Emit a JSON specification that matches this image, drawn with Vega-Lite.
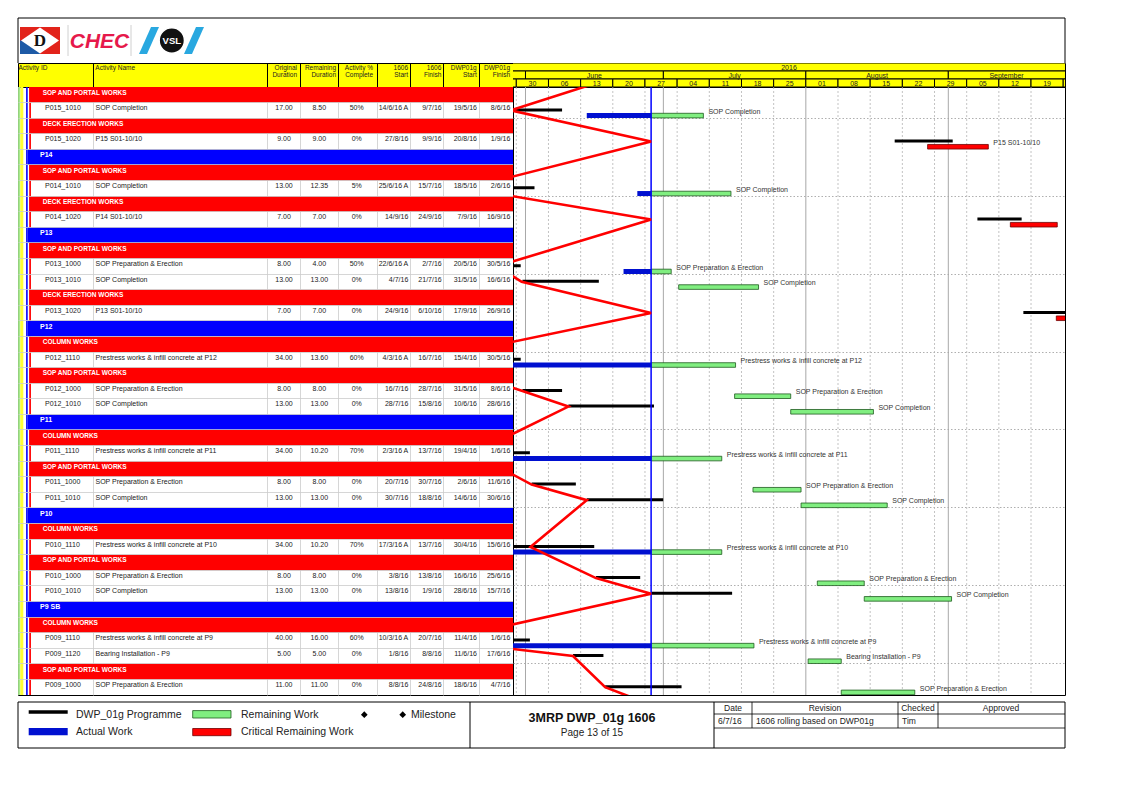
{
  "$schema": "https://vega.github.io/schema/vega-lite/v6.json",
  "background": "white",
  "padding": {"left": 17, "top": 17, "right": 0, "bottom": 0},
  "config": {
    "font": "Liberation Sans",
    "view": {"stroke": "#000000", "strokeWidth": 1},
    "axis": {"domain": false, "ticks": false, "labels": false, "grid": false},
    "text": {"font": "Liberation Sans"}
  },
  "datasets": {
    "rows": [
      {"row": 0, "type": "L2", "label": "SOP AND PORTAL WORKS"},
      {"row": 1, "type": "act", "id": "P015_1010", "name": "SOP Completion", "od": "17.00", "rd": "8.50", "pc": "50%", "st": "14/6/16 A", "fi": "9/7/16", "bs": "19/5/16", "bf": "8/6/16", "as": "2016-06-14T08:00", "rs": "2016-06-28T08:00", "fe": "2016-07-09T17:00", "bse": "2016-05-19T08:00", "bfe": "2016-06-08T23:00", "crit": "no"},
      {"row": 2, "type": "L2", "label": "DECK ERECTION WORKS"},
      {"row": 3, "type": "act", "id": "P015_1020", "name": "P15 S01-10/10", "od": "9.00", "rd": "9.00", "pc": "0%", "st": "27/8/16", "fi": "9/9/16", "bs": "20/8/16", "bf": "1/9/16", "rs": "2016-08-27T12:00", "fe": "2016-09-09T17:00", "bse": "2016-08-20T08:00", "bfe": "2016-09-01T23:00", "crit": "yes"},
      {"row": 4, "type": "L1", "label": "P14"},
      {"row": 5, "type": "L2", "label": "SOP AND PORTAL WORKS"},
      {"row": 6, "type": "act", "id": "P014_1010", "name": "SOP Completion", "od": "13.00", "rd": "12.35", "pc": "5%", "st": "25/6/16 A", "fi": "15/7/16", "bs": "18/5/16", "bf": "2/6/16", "as": "2016-06-25T08:00", "rs": "2016-06-28T08:00", "fe": "2016-07-15T17:00", "bse": "2016-05-18T08:00", "bfe": "2016-06-02T23:00", "crit": "no"},
      {"row": 7, "type": "L2", "label": "DECK ERECTION WORKS"},
      {"row": 8, "type": "act", "id": "P014_1020", "name": "P14 S01-10/10", "od": "7.00", "rd": "7.00", "pc": "0%", "st": "14/9/16", "fi": "24/9/16", "bs": "7/9/16", "bf": "16/9/16", "rs": "2016-09-14T12:00", "fe": "2016-09-24T17:00", "bse": "2016-09-07T08:00", "bfe": "2016-09-16T23:00", "crit": "yes"},
      {"row": 9, "type": "L1", "label": "P13"},
      {"row": 10, "type": "L2", "label": "SOP AND PORTAL WORKS"},
      {"row": 11, "type": "act", "id": "P013_1000", "name": "SOP Preparation & Erection", "od": "8.00", "rd": "4.00", "pc": "50%", "st": "22/6/16 A", "fi": "2/7/16", "bs": "20/5/16", "bf": "30/5/16", "as": "2016-06-22T08:00", "rs": "2016-06-28T08:00", "fe": "2016-07-02T17:00", "bse": "2016-05-20T08:00", "bfe": "2016-05-30T23:00", "crit": "no"},
      {"row": 12, "type": "act", "id": "P013_1010", "name": "SOP Completion", "od": "13.00", "rd": "13.00", "pc": "0%", "st": "4/7/16", "fi": "21/7/16", "bs": "31/5/16", "bf": "16/6/16", "rs": "2016-07-04T08:00", "fe": "2016-07-21T17:00", "bse": "2016-05-31T08:00", "bfe": "2016-06-16T23:00", "crit": "no"},
      {"row": 13, "type": "L2", "label": "DECK ERECTION WORKS"},
      {"row": 14, "type": "act", "id": "P013_1020", "name": "P13 S01-10/10", "od": "7.00", "rd": "7.00", "pc": "0%", "st": "24/9/16", "fi": "6/10/16", "bs": "17/9/16", "bf": "26/9/16", "rs": "2016-09-24T12:00", "fe": "2016-10-06T17:00", "bse": "2016-09-17T08:00", "bfe": "2016-09-26T23:00", "crit": "yes"},
      {"row": 15, "type": "L1", "label": "P12"},
      {"row": 16, "type": "L2", "label": "COLUMN WORKS"},
      {"row": 17, "type": "act", "id": "P012_1110", "name": "Prestress works & infill concrete at P12", "od": "34.00", "rd": "13.60", "pc": "60%", "st": "4/3/16 A", "fi": "16/7/16", "bs": "15/4/16", "bf": "30/5/16", "as": "2016-03-04T08:00", "rs": "2016-06-28T08:00", "fe": "2016-07-16T17:00", "bse": "2016-04-15T08:00", "bfe": "2016-05-30T23:00", "crit": "no"},
      {"row": 18, "type": "L2", "label": "SOP AND PORTAL WORKS"},
      {"row": 19, "type": "act", "id": "P012_1000", "name": "SOP Preparation & Erection", "od": "8.00", "rd": "8.00", "pc": "0%", "st": "16/7/16", "fi": "28/7/16", "bs": "31/5/16", "bf": "8/6/16", "rs": "2016-07-16T12:00", "fe": "2016-07-28T17:00", "bse": "2016-05-31T08:00", "bfe": "2016-06-08T23:00", "crit": "no"},
      {"row": 20, "type": "act", "id": "P012_1010", "name": "SOP Completion", "od": "13.00", "rd": "13.00", "pc": "0%", "st": "28/7/16", "fi": "15/8/16", "bs": "10/6/16", "bf": "28/6/16", "rs": "2016-07-28T17:00", "fe": "2016-08-15T17:00", "bse": "2016-06-10T08:00", "bfe": "2016-06-28T23:00", "crit": "no"},
      {"row": 21, "type": "L1", "label": "P11"},
      {"row": 22, "type": "L2", "label": "COLUMN WORKS"},
      {"row": 23, "type": "act", "id": "P011_1110", "name": "Prestress works & infill concrete at P11", "od": "34.00", "rd": "10.20", "pc": "70%", "st": "2/3/16 A", "fi": "13/7/16", "bs": "19/4/16", "bf": "1/6/16", "as": "2016-03-02T08:00", "rs": "2016-06-28T08:00", "fe": "2016-07-13T17:00", "bse": "2016-04-19T08:00", "bfe": "2016-06-01T23:00", "crit": "no"},
      {"row": 24, "type": "L2", "label": "SOP AND PORTAL WORKS"},
      {"row": 25, "type": "act", "id": "P011_1000", "name": "SOP Preparation & Erection", "od": "8.00", "rd": "8.00", "pc": "0%", "st": "20/7/16", "fi": "30/7/16", "bs": "2/6/16", "bf": "11/6/16", "rs": "2016-07-20T12:00", "fe": "2016-07-30T23:00", "bse": "2016-06-02T08:00", "bfe": "2016-06-11T23:00", "crit": "no"},
      {"row": 26, "type": "act", "id": "P011_1010", "name": "SOP Completion", "od": "13.00", "rd": "13.00", "pc": "0%", "st": "30/7/16", "fi": "18/8/16", "bs": "14/6/16", "bf": "30/6/16", "rs": "2016-07-30T23:00", "fe": "2016-08-18T17:00", "bse": "2016-06-14T08:00", "bfe": "2016-06-30T23:00", "crit": "no"},
      {"row": 27, "type": "L1", "label": "P10"},
      {"row": 28, "type": "L2", "label": "COLUMN WORKS"},
      {"row": 29, "type": "act", "id": "P010_1110", "name": "Prestress works & infill concrete at P10", "od": "34.00", "rd": "10.20", "pc": "70%", "st": "17/3/16 A", "fi": "13/7/16", "bs": "30/4/16", "bf": "15/6/16", "as": "2016-03-17T08:00", "rs": "2016-06-28T08:00", "fe": "2016-07-13T17:00", "bse": "2016-04-30T08:00", "bfe": "2016-06-15T23:00", "crit": "no"},
      {"row": 30, "type": "L2", "label": "SOP AND PORTAL WORKS"},
      {"row": 31, "type": "act", "id": "P010_1000", "name": "SOP Preparation & Erection", "od": "8.00", "rd": "8.00", "pc": "0%", "st": "3/8/16", "fi": "13/8/16", "bs": "16/6/16", "bf": "25/6/16", "rs": "2016-08-03T12:00", "fe": "2016-08-13T17:00", "bse": "2016-06-16T08:00", "bfe": "2016-06-25T23:00", "crit": "no"},
      {"row": 32, "type": "act", "id": "P010_1010", "name": "SOP Completion", "od": "13.00", "rd": "13.00", "pc": "0%", "st": "13/8/16", "fi": "1/9/16", "bs": "28/6/16", "bf": "15/7/16", "rs": "2016-08-13T17:00", "fe": "2016-09-01T17:00", "bse": "2016-06-28T08:00", "bfe": "2016-07-15T23:00", "crit": "no"},
      {"row": 33, "type": "L1", "label": "P9 SB"},
      {"row": 34, "type": "L2", "label": "COLUMN WORKS"},
      {"row": 35, "type": "act", "id": "P009_1110", "name": "Prestress works & infill concrete at P9", "od": "40.00", "rd": "16.00", "pc": "60%", "st": "10/3/16 A", "fi": "20/7/16", "bs": "11/4/16", "bf": "1/6/16", "as": "2016-03-10T08:00", "rs": "2016-06-28T08:00", "fe": "2016-07-20T17:00", "bse": "2016-04-11T08:00", "bfe": "2016-06-01T23:00", "crit": "no"},
      {"row": 36, "type": "act", "id": "P009_1120", "name": "Bearing Installation - P9", "od": "5.00", "rd": "5.00", "pc": "0%", "st": "1/8/16", "fi": "8/8/16", "bs": "11/6/16", "bf": "17/6/16", "rs": "2016-08-01T12:00", "fe": "2016-08-08T17:00", "bse": "2016-06-11T08:00", "bfe": "2016-06-17T23:00", "crit": "no"},
      {"row": 37, "type": "L2", "label": "SOP AND PORTAL WORKS"},
      {"row": 38, "type": "act", "id": "P009_1000", "name": "SOP Preparation & Erection", "od": "11.00", "rd": "11.00", "pc": "0%", "st": "8/8/16", "fi": "24/8/16", "bs": "18/6/16", "bf": "4/7/16", "rs": "2016-08-08T17:00", "fe": "2016-08-24T17:00", "bse": "2016-06-18T08:00", "bfe": "2016-07-04T23:00", "crit": "no"}
    ],
    "tcells": [
      {"lv": "year", "s": "2016-05-20T00:00", "e": "2016-10-10T00:00", "t": "2016", "m": "2016-07-28T08:00"},
      {"lv": "month", "s": "2016-05-20T00:00", "e": "2016-06-01T00:00", "t": "", "m": "2016-05-25T00:00"},
      {"lv": "month", "s": "2016-06-01T00:00", "e": "2016-07-01T00:00", "t": "June", "m": "2016-06-16T00:00"},
      {"lv": "month", "s": "2016-07-01T00:00", "e": "2016-08-01T00:00", "t": "July", "m": "2016-07-16T12:00"},
      {"lv": "month", "s": "2016-08-01T00:00", "e": "2016-09-01T00:00", "t": "August", "m": "2016-08-16T12:00"},
      {"lv": "month", "s": "2016-09-01T00:00", "e": "2016-10-01T00:00", "t": "September", "m": "2016-09-13T16:00"},
      {"lv": "week", "s": "2016-05-23T00:00", "e": "2016-05-30T00:00", "t": "", "m": "2016-05-26T12:00"},
      {"lv": "week", "s": "2016-05-30T00:00", "e": "2016-06-06T00:00", "t": "30", "m": "2016-06-02T12:00"},
      {"lv": "week", "s": "2016-06-06T00:00", "e": "2016-06-13T00:00", "t": "06", "m": "2016-06-09T12:00"},
      {"lv": "week", "s": "2016-06-13T00:00", "e": "2016-06-20T00:00", "t": "13", "m": "2016-06-16T12:00"},
      {"lv": "week", "s": "2016-06-20T00:00", "e": "2016-06-27T00:00", "t": "20", "m": "2016-06-23T12:00"},
      {"lv": "week", "s": "2016-06-27T00:00", "e": "2016-07-04T00:00", "t": "27", "m": "2016-06-30T12:00"},
      {"lv": "week", "s": "2016-07-04T00:00", "e": "2016-07-11T00:00", "t": "04", "m": "2016-07-07T12:00"},
      {"lv": "week", "s": "2016-07-11T00:00", "e": "2016-07-18T00:00", "t": "11", "m": "2016-07-14T12:00"},
      {"lv": "week", "s": "2016-07-18T00:00", "e": "2016-07-25T00:00", "t": "18", "m": "2016-07-21T12:00"},
      {"lv": "week", "s": "2016-07-25T00:00", "e": "2016-08-01T00:00", "t": "25", "m": "2016-07-28T12:00"},
      {"lv": "week", "s": "2016-08-01T00:00", "e": "2016-08-08T00:00", "t": "01", "m": "2016-08-04T12:00"},
      {"lv": "week", "s": "2016-08-08T00:00", "e": "2016-08-15T00:00", "t": "08", "m": "2016-08-11T12:00"},
      {"lv": "week", "s": "2016-08-15T00:00", "e": "2016-08-22T00:00", "t": "15", "m": "2016-08-18T12:00"},
      {"lv": "week", "s": "2016-08-22T00:00", "e": "2016-08-29T00:00", "t": "22", "m": "2016-08-25T12:00"},
      {"lv": "week", "s": "2016-08-29T00:00", "e": "2016-09-05T00:00", "t": "29", "m": "2016-09-01T12:00"},
      {"lv": "week", "s": "2016-09-05T00:00", "e": "2016-09-12T00:00", "t": "05", "m": "2016-09-08T12:00"},
      {"lv": "week", "s": "2016-09-12T00:00", "e": "2016-09-19T00:00", "t": "12", "m": "2016-09-15T12:00"},
      {"lv": "week", "s": "2016-09-19T00:00", "e": "2016-09-26T00:00", "t": "19", "m": "2016-09-22T12:00"},
      {"lv": "week", "s": "2016-09-26T00:00", "e": "2016-10-03T00:00", "t": "", "m": "2016-09-29T12:00"}
    ],
    "weeks": [
      {"d": "2016-05-30T00:00"}, {"d": "2016-06-06T00:00"}, {"d": "2016-06-13T00:00"}, {"d": "2016-06-20T00:00"},
      {"d": "2016-06-27T00:00"}, {"d": "2016-07-04T00:00"}, {"d": "2016-07-11T00:00"}, {"d": "2016-07-18T00:00"},
      {"d": "2016-07-25T00:00"}, {"d": "2016-08-08T00:00"}, {"d": "2016-08-15T00:00"}, {"d": "2016-08-22T00:00"},
      {"d": "2016-08-29T00:00"}, {"d": "2016-09-05T00:00"}, {"d": "2016-09-12T00:00"}, {"d": "2016-09-19T00:00"}
    ],
    "months": [
      {"d": "2016-06-01T00:00"}, {"d": "2016-07-01T00:00"}, {"d": "2016-08-01T00:00"}, {"d": "2016-09-01T00:00"}
    ],
    "datadate": [{"dd": "2016-06-28T08:00"}],
    "prog": [
      {"r": -1, "d": "2016-06-18T23:00"},
      {"r": 1, "d": "2016-05-28T20:00"},
      {"r": 3, "d": "2016-06-28T08:00"},
      {"r": 6, "d": "2016-05-19T02:00"},
      {"r": 8, "d": "2016-06-28T08:00"},
      {"r": 11, "d": "2016-05-25T19:00"},
      {"r": 12, "d": "2016-05-31T04:00"},
      {"r": 14, "d": "2016-06-28T08:00"},
      {"r": 17, "d": "2016-05-10T10:00"},
      {"r": 19, "d": "2016-05-31T08:00"},
      {"r": 20, "d": "2016-06-10T08:00"},
      {"r": 23, "d": "2016-05-20T14:00"},
      {"r": 25, "d": "2016-06-02T08:00"},
      {"r": 26, "d": "2016-06-14T08:00"},
      {"r": 29, "d": "2016-06-02T02:00"},
      {"r": 31, "d": "2016-06-16T08:00"},
      {"r": 32, "d": "2016-06-28T08:00"},
      {"r": 35, "d": "2016-05-13T14:00"},
      {"r": 36, "d": "2016-06-11T08:00"},
      {"r": 38, "d": "2016-06-18T08:00"},
      {"r": 39, "d": "2016-06-27T05:00"}
    ]
  },
  "concat": [
    {
      "width": 495, "height": 45,
      "view": {"stroke": null},
      "data": {"values": [{}]},
      "layer": [
        {"mark": {"type": "rect", "fill": "#e2231a"},
         "encoding": {"x": {"datum": 2, "type": "quantitative", "scale": {"domain": [0, 495], "nice": false, "zero": false}, "axis": null}, "x2": {"datum": 42}, "y": {"datum": 9, "type": "quantitative", "scale": {"domain": [0, 45], "reverse": true, "nice": false, "zero": false}, "axis": null}, "y2": {"datum": 36}}},
        {"mark": {"type": "rect", "fill": "#1d5aa6"},
         "encoding": {"x": {"datum": 2, "type": "quantitative", "scale": {"domain": [0, 495], "nice": false, "zero": false}, "axis": null}, "x2": {"datum": 22}, "y": {"datum": 22.5, "type": "quantitative", "scale": {"domain": [0, 45], "reverse": true, "nice": false, "zero": false}, "axis": null}, "y2": {"datum": 36}}},
        {"mark": {"type": "point", "shape": "M0,-0.68L1,0L0,0.68L-1,0Z", "size": 1444, "filled": true, "color": "#ffffff", "opacity": 1},
         "encoding": {"x": {"datum": 22, "type": "quantitative", "scale": {"domain": [0, 495], "nice": false, "zero": false}, "axis": null}, "y": {"datum": 22.5, "type": "quantitative", "scale": {"domain": [0, 45], "reverse": true, "nice": false, "zero": false}, "axis": null}}},
        {"mark": {"type": "text", "text": "D", "fontSize": 17, "fontWeight": "bold", "color": "#111111", "baseline": "middle", "align": "center", "font": "Liberation Serif"},
         "encoding": {"x": {"datum": 22, "type": "quantitative", "scale": {"domain": [0, 495], "nice": false, "zero": false}, "axis": null}, "y": {"datum": 23, "type": "quantitative", "scale": {"domain": [0, 45], "reverse": true, "nice": false, "zero": false}, "axis": null}}},
        {"mark": {"type": "rule", "color": "#d0d0d0", "strokeWidth": 1},
         "encoding": {"x": {"datum": 50, "type": "quantitative", "scale": {"domain": [0, 495], "nice": false, "zero": false}, "axis": null}, "y": {"datum": 7, "type": "quantitative", "scale": {"domain": [0, 45], "reverse": true, "nice": false, "zero": false}, "axis": null}, "y2": {"datum": 38}}},
        {"mark": {"type": "rule", "color": "#d0d0d0", "strokeWidth": 1},
         "encoding": {"x": {"datum": 113, "type": "quantitative", "scale": {"domain": [0, 495], "nice": false, "zero": false}, "axis": null}, "y": {"datum": 7, "type": "quantitative", "scale": {"domain": [0, 45], "reverse": true, "nice": false, "zero": false}, "axis": null}, "y2": {"datum": 38}}},
        {"mark": {"type": "text", "text": "CHEC", "fontSize": 21, "fontWeight": "bold", "fontStyle": "italic", "color": "#e6194b", "baseline": "middle", "align": "center"},
         "encoding": {"x": {"datum": 81.5, "type": "quantitative", "scale": {"domain": [0, 495], "nice": false, "zero": false}, "axis": null}, "y": {"datum": 23.5, "type": "quantitative", "scale": {"domain": [0, 45], "reverse": true, "nice": false, "zero": false}, "axis": null}}},
        {"mark": {"type": "point", "shape": "M-0.74,1L-0.15,1L0.74,-1L0.15,-1Z", "size": 729, "filled": true, "color": "#29a8e0", "opacity": 1},
         "encoding": {"x": {"datum": 131, "type": "quantitative", "scale": {"domain": [0, 495], "nice": false, "zero": false}, "axis": null}, "y": {"datum": 22.5, "type": "quantitative", "scale": {"domain": [0, 45], "reverse": true, "nice": false, "zero": false}, "axis": null}}},
        {"mark": {"type": "point", "shape": "M-0.74,1L-0.15,1L0.74,-1L0.15,-1Z", "size": 729, "filled": true, "color": "#29a8e0", "opacity": 1},
         "encoding": {"x": {"datum": 176, "type": "quantitative", "scale": {"domain": [0, 495], "nice": false, "zero": false}, "axis": null}, "y": {"datum": 22.5, "type": "quantitative", "scale": {"domain": [0, 45], "reverse": true, "nice": false, "zero": false}, "axis": null}}},
        {"mark": {"type": "point", "shape": "circle", "size": 640, "filled": true, "color": "#111111", "opacity": 1, "stroke": "#ffffff", "strokeWidth": 1.5},
         "encoding": {"x": {"datum": 153.8, "type": "quantitative", "scale": {"domain": [0, 495], "nice": false, "zero": false}, "axis": null}, "y": {"datum": 22.5, "type": "quantitative", "scale": {"domain": [0, 45], "reverse": true, "nice": false, "zero": false}, "axis": null}}},
        {"mark": {"type": "text", "text": "VSL", "fontSize": 9.5, "fontWeight": "bold", "color": "#ffffff", "baseline": "middle", "align": "center"},
         "encoding": {"x": {"datum": 153.8, "type": "quantitative", "scale": {"domain": [0, 495], "nice": false, "zero": false}, "axis": null}, "y": {"datum": 23, "type": "quantitative", "scale": {"domain": [0, 45], "reverse": true, "nice": false, "zero": false}, "axis": null}}},
        {"mark": {"type": "rule", "color": "#000000", "strokeWidth": 1},
         "encoding": {"x": {"datum": 0, "type": "quantitative", "scale": {"domain": [0, 495], "nice": false, "zero": false}, "axis": null}, "x2": {"datum": 495}, "y": {"datum": 0, "type": "quantitative", "scale": {"domain": [0, 45], "reverse": true, "nice": false, "zero": false}, "axis": null}}},
        {"mark": {"type": "rule", "color": "#000000", "strokeWidth": 1},
         "encoding": {"x": {"datum": 0, "type": "quantitative", "scale": {"domain": [0, 495], "nice": false, "zero": false}, "axis": null}, "y": {"datum": 0, "type": "quantitative", "scale": {"domain": [0, 45], "reverse": true, "nice": false, "zero": false}, "axis": null}, "y2": {"datum": 45}}}
      ]
    },
    {
      "width": 552, "height": 45,
      "view": {"stroke": null},
      "data": {"values": [{}]},
      "layer": [
        {"mark": {"type": "rule", "color": "#000000", "strokeWidth": 1},
         "encoding": {"x": {"datum": 0, "type": "quantitative", "scale": {"domain": [0, 552], "nice": false, "zero": false}, "axis": null}, "x2": {"datum": 552}, "y": {"datum": 0, "type": "quantitative", "scale": {"domain": [0, 45], "reverse": true, "nice": false, "zero": false}, "axis": null}}},
        {"mark": {"type": "rule", "color": "#000000", "strokeWidth": 1},
         "encoding": {"x": {"datum": 552, "type": "quantitative", "scale": {"domain": [0, 552], "nice": false, "zero": false}, "axis": null}, "y": {"datum": 0, "type": "quantitative", "scale": {"domain": [0, 45], "reverse": true, "nice": false, "zero": false}, "axis": null}, "y2": {"datum": 45}}}
      ]
    },
    {
      "width": 495, "height": 24,
      "view": {"fill": "#ffff00", "stroke": "#000000"},
      "data": {"values": [{}]},
      "layer": [
        {"mark": {"type": "text", "text": "Activity ID", "fontSize": 6.5, "color": "#222222", "align": "left", "baseline": "top"},
         "encoding": {"x": {"datum": 0.5, "type": "quantitative", "scale": {"domain": [0, 495], "nice": false, "zero": false}, "axis": {"grid": true, "values": [75.3, 248.7, 282.3, 319.7, 358.7, 392, 425.3, 460.7], "gridColor": "#000000", "gridWidth": 1, "title": null}}, "y": {"datum": 1.6, "type": "quantitative", "scale": {"domain": [0, 24], "reverse": true, "nice": false, "zero": false}, "axis": null}}},
        {"mark": {"type": "text", "text": "Activity Name", "fontSize": 6.5, "color": "#222222", "align": "left", "baseline": "top"},
         "encoding": {"x": {"datum": 77.3, "type": "quantitative", "scale": {"domain": [0, 495], "nice": false, "zero": false}}, "y": {"datum": 1.6, "type": "quantitative", "scale": {"domain": [0, 24], "reverse": true, "nice": false, "zero": false}, "axis": null}}},
        {"mark": {"type": "text", "text": ["Original", "Duration"], "fontSize": 6.5, "lineHeight": 7.6, "color": "#222222", "align": "right", "baseline": "top"},
         "encoding": {"x": {"datum": 279, "type": "quantitative", "scale": {"domain": [0, 495], "nice": false, "zero": false}}, "y": {"datum": 1.6, "type": "quantitative", "scale": {"domain": [0, 24], "reverse": true, "nice": false, "zero": false}, "axis": null}}},
        {"mark": {"type": "text", "text": ["Remaining", "Duration"], "fontSize": 6.5, "lineHeight": 7.6, "color": "#222222", "align": "right", "baseline": "top"},
         "encoding": {"x": {"datum": 318, "type": "quantitative", "scale": {"domain": [0, 495], "nice": false, "zero": false}}, "y": {"datum": 1.6, "type": "quantitative", "scale": {"domain": [0, 24], "reverse": true, "nice": false, "zero": false}, "axis": null}}},
        {"mark": {"type": "text", "text": ["Activity %", "Complete"], "fontSize": 6.5, "lineHeight": 7.6, "color": "#222222", "align": "right", "baseline": "top"},
         "encoding": {"x": {"datum": 355, "type": "quantitative", "scale": {"domain": [0, 495], "nice": false, "zero": false}}, "y": {"datum": 1.6, "type": "quantitative", "scale": {"domain": [0, 24], "reverse": true, "nice": false, "zero": false}, "axis": null}}},
        {"mark": {"type": "text", "text": ["1606", "Start"], "fontSize": 6.5, "lineHeight": 7.6, "color": "#222222", "align": "right", "baseline": "top"},
         "encoding": {"x": {"datum": 390, "type": "quantitative", "scale": {"domain": [0, 495], "nice": false, "zero": false}}, "y": {"datum": 1.6, "type": "quantitative", "scale": {"domain": [0, 24], "reverse": true, "nice": false, "zero": false}, "axis": null}}},
        {"mark": {"type": "text", "text": ["1606", "Finish"], "fontSize": 6.5, "lineHeight": 7.6, "color": "#222222", "align": "right", "baseline": "top"},
         "encoding": {"x": {"datum": 423.3, "type": "quantitative", "scale": {"domain": [0, 495], "nice": false, "zero": false}}, "y": {"datum": 1.6, "type": "quantitative", "scale": {"domain": [0, 24], "reverse": true, "nice": false, "zero": false}, "axis": null}}},
        {"mark": {"type": "text", "text": ["DWP01g", "Start"], "fontSize": 6.5, "lineHeight": 7.6, "color": "#222222", "align": "right", "baseline": "top"},
         "encoding": {"x": {"datum": 458.7, "type": "quantitative", "scale": {"domain": [0, 495], "nice": false, "zero": false}}, "y": {"datum": 1.6, "type": "quantitative", "scale": {"domain": [0, 24], "reverse": true, "nice": false, "zero": false}, "axis": null}}},
        {"mark": {"type": "text", "text": ["DWP01g", "Finish"], "fontSize": 6.5, "lineHeight": 7.6, "color": "#222222", "align": "right", "baseline": "top"},
         "encoding": {"x": {"datum": 492, "type": "quantitative", "scale": {"domain": [0, 495], "nice": false, "zero": false}}, "y": {"datum": 1.6, "type": "quantitative", "scale": {"domain": [0, 24], "reverse": true, "nice": false, "zero": false}, "axis": null}}}
      ]
    },
    {
      "width": 552, "height": 24,
      "data": {"name": "tcells"},
      "layer": [
        {"mark": {"type": "rect", "fill": "#ffff00", "stroke": "#000000", "strokeWidth": 1, "clip": true},
         "encoding": {"x": {"field": "s", "type": "temporal", "scale": {"domain": [{"year": 2016, "month": 5, "date": 29, "hours": 6, "minutes": 46}, {"year": 2016, "month": 9, "date": 26, "hours": 9, "minutes": 24}]}, "axis": null}, "x2": {"field": "e"}, "y": {"field": "lv", "type": "ordinal", "scale": {"domain": ["year", "month", "week"], "paddingInner": 0, "paddingOuter": 0}, "axis": null}}},
        {"transform": [{"filter": "datum.t != ''"}],
         "mark": {"type": "text", "fontSize": 7, "color": "#222222", "clip": true, "baseline": "middle", "dy": 0.5},
         "encoding": {"x": {"field": "m", "type": "temporal", "scale": {"domain": [{"year": 2016, "month": 5, "date": 29, "hours": 6, "minutes": 46}, {"year": 2016, "month": 9, "date": 26, "hours": 9, "minutes": 24}]}, "axis": null}, "y": {"field": "lv", "type": "ordinal", "scale": {"domain": ["year", "month", "week"], "paddingInner": 0, "paddingOuter": 0}, "axis": null}, "text": {"field": "t"}}}
      ]
    },
    {
      "width": 495, "height": 608,
      "data": {"name": "rows"},
      "layer": [
        {"data": {"values": [{}]},
         "mark": {"type": "rule", "color": "#ff0000", "strokeWidth": 1.7},
         "encoding": {"x": {"datum": 12.1, "type": "quantitative", "scale": {"domain": [0, 495], "nice": false, "zero": false}, "axis": {"grid": true, "values": [75.3, 248.7, 282.3, 319.7, 358.7, 392, 425.3, 460.7], "gridColor": "#cccccc", "gridWidth": 0.8, "title": null}}}},
        {"transform": [{"filter": "datum.type == 'L1'"}],
         "mark": {"type": "rect", "fill": "#0000ff"},
         "encoding": {"x": {"datum": 9.7, "type": "quantitative", "scale": {"domain": [0, 495], "nice": false, "zero": false}}, "x2": {"datum": 495}, "y": {"field": "row", "type": "ordinal", "scale": {"domain": [0,1,2,3,4,5,6,7,8,9,10,11,12,13,14,15,16,17,18,19,20,21,22,23,24,25,26,27,28,29,30,31,32,33,34,35,36,37,38], "paddingInner": 0, "paddingOuter": 0}, "axis": {"grid": true, "values": [1,2,3,4,5,6,7,8,9,10,11,12,13,14,15,16,17,18,19,20,21,22,23,24,25,26,27,28,29,30,31,32,33,34,35,36,37,38], "bandPosition": 0, "gridColor": "#cccccc", "gridWidth": 0.8, "title": null}}}},
        {"transform": [{"filter": "datum.type == 'L2'"}],
         "mark": {"type": "rect", "fill": "#ff0000"},
         "encoding": {"x": {"datum": 11.3, "type": "quantitative", "scale": {"domain": [0, 495], "nice": false, "zero": false}}, "x2": {"datum": 495}, "y": {"field": "row", "type": "ordinal", "scale": {"domain": [0,1,2,3,4,5,6,7,8,9,10,11,12,13,14,15,16,17,18,19,20,21,22,23,24,25,26,27,28,29,30,31,32,33,34,35,36,37,38], "paddingInner": 0, "paddingOuter": 0}}}},
        {"data": {"values": [{}]},
         "mark": {"type": "rule", "color": "#0000ff", "strokeWidth": 1.6},
         "encoding": {"x": {"datum": 8.9, "type": "quantitative", "scale": {"domain": [0, 495], "nice": false, "zero": false}}}},
        {"data": {"values": [{}]},
         "mark": {"type": "rule", "color": "#a6e88c", "strokeWidth": 2.2},
         "encoding": {"x": {"datum": 1.2, "type": "quantitative", "scale": {"domain": [0, 495], "nice": false, "zero": false}}}},
        {"data": {"values": [{}]},
         "mark": {"type": "rule", "color": "#ffff33", "strokeWidth": 3},
         "encoding": {"x": {"datum": 3.8, "type": "quantitative", "scale": {"domain": [0, 495], "nice": false, "zero": false}}}},
        {"transform": [{"filter": "datum.type == 'L1'"}],
         "mark": {"type": "text", "fontSize": 7, "fontWeight": "bold", "color": "#ffffff", "align": "left", "baseline": "middle", "dy": -2},
         "encoding": {"x": {"datum": 22, "type": "quantitative", "scale": {"domain": [0, 495], "nice": false, "zero": false}}, "y": {"field": "row", "type": "ordinal", "scale": {"domain": [0,1,2,3,4,5,6,7,8,9,10,11,12,13,14,15,16,17,18,19,20,21,22,23,24,25,26,27,28,29,30,31,32,33,34,35,36,37,38], "paddingInner": 0, "paddingOuter": 0}}, "text": {"field": "label"}}},
        {"transform": [{"filter": "datum.type == 'L2'"}],
         "mark": {"type": "text", "fontSize": 6.5, "fontWeight": "bold", "color": "#ffffff", "align": "left", "baseline": "middle", "dy": -2},
         "encoding": {"x": {"datum": 24.7, "type": "quantitative", "scale": {"domain": [0, 495], "nice": false, "zero": false}}, "y": {"field": "row", "type": "ordinal", "scale": {"domain": [0,1,2,3,4,5,6,7,8,9,10,11,12,13,14,15,16,17,18,19,20,21,22,23,24,25,26,27,28,29,30,31,32,33,34,35,36,37,38], "paddingInner": 0, "paddingOuter": 0}}, "text": {"field": "label"}}},
        {"transform": [{"filter": "datum.type == 'act'"}],
         "mark": {"type": "text", "fontSize": 7, "color": "#1a1a1a", "align": "left", "baseline": "middle", "dy": -2.3},
         "encoding": {"x": {"datum": 27, "type": "quantitative", "scale": {"domain": [0, 495], "nice": false, "zero": false}}, "y": {"field": "row", "type": "ordinal", "scale": {"domain": [0,1,2,3,4,5,6,7,8,9,10,11,12,13,14,15,16,17,18,19,20,21,22,23,24,25,26,27,28,29,30,31,32,33,34,35,36,37,38], "paddingInner": 0, "paddingOuter": 0}}, "text": {"field": "id"}}},
        {"transform": [{"filter": "datum.type == 'act'"}],
         "mark": {"type": "text", "fontSize": 7, "color": "#1a1a1a", "align": "left", "baseline": "middle", "dy": -2.3},
         "encoding": {"x": {"datum": 77.5, "type": "quantitative", "scale": {"domain": [0, 495], "nice": false, "zero": false}}, "y": {"field": "row", "type": "ordinal", "scale": {"domain": [0,1,2,3,4,5,6,7,8,9,10,11,12,13,14,15,16,17,18,19,20,21,22,23,24,25,26,27,28,29,30,31,32,33,34,35,36,37,38], "paddingInner": 0, "paddingOuter": 0}}, "text": {"field": "name"}}},
        {"transform": [{"filter": "datum.type == 'act'"}],
         "mark": {"type": "text", "fontSize": 7, "color": "#1a1a1a", "align": "center", "baseline": "middle", "dy": -2.3},
         "encoding": {"x": {"datum": 266, "type": "quantitative", "scale": {"domain": [0, 495], "nice": false, "zero": false}}, "y": {"field": "row", "type": "ordinal", "scale": {"domain": [0,1,2,3,4,5,6,7,8,9,10,11,12,13,14,15,16,17,18,19,20,21,22,23,24,25,26,27,28,29,30,31,32,33,34,35,36,37,38], "paddingInner": 0, "paddingOuter": 0}}, "text": {"field": "od"}}},
        {"transform": [{"filter": "datum.type == 'act'"}],
         "mark": {"type": "text", "fontSize": 7, "color": "#1a1a1a", "align": "center", "baseline": "middle", "dy": -2.3},
         "encoding": {"x": {"datum": 301.3, "type": "quantitative", "scale": {"domain": [0, 495], "nice": false, "zero": false}}, "y": {"field": "row", "type": "ordinal", "scale": {"domain": [0,1,2,3,4,5,6,7,8,9,10,11,12,13,14,15,16,17,18,19,20,21,22,23,24,25,26,27,28,29,30,31,32,33,34,35,36,37,38], "paddingInner": 0, "paddingOuter": 0}}, "text": {"field": "rd"}}},
        {"transform": [{"filter": "datum.type == 'act'"}],
         "mark": {"type": "text", "fontSize": 7, "color": "#1a1a1a", "align": "center", "baseline": "middle", "dy": -2.3},
         "encoding": {"x": {"datum": 338.7, "type": "quantitative", "scale": {"domain": [0, 495], "nice": false, "zero": false}}, "y": {"field": "row", "type": "ordinal", "scale": {"domain": [0,1,2,3,4,5,6,7,8,9,10,11,12,13,14,15,16,17,18,19,20,21,22,23,24,25,26,27,28,29,30,31,32,33,34,35,36,37,38], "paddingInner": 0, "paddingOuter": 0}}, "text": {"field": "pc"}}},
        {"transform": [{"filter": "datum.type == 'act'"}],
         "mark": {"type": "text", "fontSize": 7, "color": "#1a1a1a", "align": "right", "baseline": "middle", "dy": -2.3},
         "encoding": {"x": {"datum": 390.3, "type": "quantitative", "scale": {"domain": [0, 495], "nice": false, "zero": false}}, "y": {"field": "row", "type": "ordinal", "scale": {"domain": [0,1,2,3,4,5,6,7,8,9,10,11,12,13,14,15,16,17,18,19,20,21,22,23,24,25,26,27,28,29,30,31,32,33,34,35,36,37,38], "paddingInner": 0, "paddingOuter": 0}}, "text": {"field": "st"}}},
        {"transform": [{"filter": "datum.type == 'act'"}],
         "mark": {"type": "text", "fontSize": 7, "color": "#1a1a1a", "align": "right", "baseline": "middle", "dy": -2.3},
         "encoding": {"x": {"datum": 423.7, "type": "quantitative", "scale": {"domain": [0, 495], "nice": false, "zero": false}}, "y": {"field": "row", "type": "ordinal", "scale": {"domain": [0,1,2,3,4,5,6,7,8,9,10,11,12,13,14,15,16,17,18,19,20,21,22,23,24,25,26,27,28,29,30,31,32,33,34,35,36,37,38], "paddingInner": 0, "paddingOuter": 0}}, "text": {"field": "fi"}}},
        {"transform": [{"filter": "datum.type == 'act'"}],
         "mark": {"type": "text", "fontSize": 7, "color": "#1a1a1a", "align": "right", "baseline": "middle", "dy": -2.3},
         "encoding": {"x": {"datum": 459, "type": "quantitative", "scale": {"domain": [0, 495], "nice": false, "zero": false}}, "y": {"field": "row", "type": "ordinal", "scale": {"domain": [0,1,2,3,4,5,6,7,8,9,10,11,12,13,14,15,16,17,18,19,20,21,22,23,24,25,26,27,28,29,30,31,32,33,34,35,36,37,38], "paddingInner": 0, "paddingOuter": 0}}, "text": {"field": "bs"}}},
        {"transform": [{"filter": "datum.type == 'act'"}],
         "mark": {"type": "text", "fontSize": 7, "color": "#1a1a1a", "align": "right", "baseline": "middle", "dy": -2.3},
         "encoding": {"x": {"datum": 492.3, "type": "quantitative", "scale": {"domain": [0, 495], "nice": false, "zero": false}}, "y": {"field": "row", "type": "ordinal", "scale": {"domain": [0,1,2,3,4,5,6,7,8,9,10,11,12,13,14,15,16,17,18,19,20,21,22,23,24,25,26,27,28,29,30,31,32,33,34,35,36,37,38], "paddingInner": 0, "paddingOuter": 0}}, "text": {"field": "bf"}}}
      ]
    },
    {
      "width": 552, "height": 608,
      "layer": [
        {
          "data": {"name": "rows"},
          "layer": [
            {"data": {"name": "weeks"},
             "mark": {"type": "rule", "color": "#b4b4b4", "strokeDash": [2, 2], "strokeWidth": 0.8},
             "encoding": {"x": {"field": "d", "type": "temporal", "scale": {"domain": [{"year": 2016, "month": 5, "date": 29, "hours": 6, "minutes": 46}, {"year": 2016, "month": 9, "date": 26, "hours": 9, "minutes": 24}]}, "axis": null}}},
            {"data": {"name": "months"},
             "mark": {"type": "rule", "color": "#a8a8a8", "strokeWidth": 1},
             "encoding": {"x": {"field": "d", "type": "temporal", "scale": {"domain": [{"year": 2016, "month": 5, "date": 29, "hours": 6, "minutes": 46}, {"year": 2016, "month": 9, "date": 26, "hours": 9, "minutes": 24}]}, "axis": null}}},
            {"transform": [{"filter": "datum.type == 'act'"}],
             "mark": {"type": "bar", "height": 3, "yOffset": -0.5, "color": "#000000", "clip": true},
             "encoding": {"x": {"field": "bse", "type": "temporal", "scale": {"domain": [{"year": 2016, "month": 5, "date": 29, "hours": 6, "minutes": 46}, {"year": 2016, "month": 9, "date": 26, "hours": 9, "minutes": 24}]}, "axis": null}, "x2": {"field": "bfe"}, "y": {"field": "row", "type": "ordinal", "scale": {"domain": [0,1,2,3,4,5,6,7,8,9,10,11,12,13,14,15,16,17,18,19,20,21,22,23,24,25,26,27,28,29,30,31,32,33,34,35,36,37,38], "paddingInner": 0, "paddingOuter": 0}, "axis": {"grid": true, "values": [2, 7, 12, 17, 22, 27, 32, 37], "bandPosition": 0, "gridDash": [1.5, 2], "gridColor": "#9a9a9a", "gridWidth": 0.8, "title": null}}}},
            {"transform": [{"filter": "datum.type == 'act' && isValid(datum.as)"}],
             "mark": {"type": "bar", "height": 5, "yOffset": 5.2, "color": "#0010d0", "clip": true},
             "encoding": {"x": {"field": "as", "type": "temporal", "scale": {"domain": [{"year": 2016, "month": 5, "date": 29, "hours": 6, "minutes": 46}, {"year": 2016, "month": 9, "date": 26, "hours": 9, "minutes": 24}]}, "axis": null}, "x2": {"field": "rs"}, "y": {"field": "row", "type": "ordinal", "scale": {"domain": [0,1,2,3,4,5,6,7,8,9,10,11,12,13,14,15,16,17,18,19,20,21,22,23,24,25,26,27,28,29,30,31,32,33,34,35,36,37,38], "paddingInner": 0, "paddingOuter": 0}}}},
            {"transform": [{"filter": "datum.type == 'act'"}],
             "mark": {"type": "bar", "height": 4.6, "yOffset": 5.2, "strokeWidth": 0.8, "clip": true},
             "encoding": {"x": {"field": "rs", "type": "temporal", "scale": {"domain": [{"year": 2016, "month": 5, "date": 29, "hours": 6, "minutes": 46}, {"year": 2016, "month": 9, "date": 26, "hours": 9, "minutes": 24}]}, "axis": null}, "x2": {"field": "fe"}, "y": {"field": "row", "type": "ordinal", "scale": {"domain": [0,1,2,3,4,5,6,7,8,9,10,11,12,13,14,15,16,17,18,19,20,21,22,23,24,25,26,27,28,29,30,31,32,33,34,35,36,37,38], "paddingInner": 0, "paddingOuter": 0}},
               "fill": {"field": "crit", "type": "nominal", "scale": {"domain": ["no", "yes"], "range": ["#80ee80", "#ff0000"]}, "legend": null},
               "stroke": {"field": "crit", "type": "nominal", "scale": {"domain": ["no", "yes"], "range": ["#1e5a1e", "#700000"]}, "legend": null}}},
            {"transform": [{"filter": "datum.type == 'act' && time(toDate(datum.fe)) < time(datetime(2016, 8, 20))"}],
             "mark": {"type": "text", "fontSize": 7, "color": "#333333", "align": "left", "baseline": "middle", "dx": 5, "dy": 1.3, "clip": true},
             "encoding": {"x": {"field": "fe", "type": "temporal", "scale": {"domain": [{"year": 2016, "month": 5, "date": 29, "hours": 6, "minutes": 46}, {"year": 2016, "month": 9, "date": 26, "hours": 9, "minutes": 24}]}, "axis": null}, "y": {"field": "row", "type": "ordinal", "scale": {"domain": [0,1,2,3,4,5,6,7,8,9,10,11,12,13,14,15,16,17,18,19,20,21,22,23,24,25,26,27,28,29,30,31,32,33,34,35,36,37,38], "paddingInner": 0, "paddingOuter": 0}}, "text": {"field": "name"}}},
            {"data": {"name": "datadate"},
             "mark": {"type": "rule", "color": "#0000ff", "strokeWidth": 1.5},
             "encoding": {"x": {"field": "dd", "type": "temporal", "scale": {"domain": [{"year": 2016, "month": 5, "date": 29, "hours": 6, "minutes": 46}, {"year": 2016, "month": 9, "date": 26, "hours": 9, "minutes": 24}]}, "axis": null}}}
          ]
        },
        {
          "data": {"name": "prog"},
          "mark": {"type": "line", "color": "#ff0000", "strokeWidth": 2.6, "clip": true},
          "encoding": {
            "x": {"field": "d", "type": "temporal", "scale": {"domain": [{"year": 2016, "month": 5, "date": 29, "hours": 6, "minutes": 46}, {"year": 2016, "month": 9, "date": 26, "hours": 9, "minutes": 24}]}, "axis": null},
            "y": {"field": "r", "type": "quantitative", "scale": {"domain": [-0.5, 38.5], "reverse": true, "nice": false, "zero": false}, "axis": null},
            "order": {"field": "r", "type": "quantitative"}
          }
        }
      ],
      "resolve": {"scale": {"y": "independent"}}
    },
    {
      "width": 495, "height": 53,
      "view": {"stroke": null},
      "data": {"values": [{}]},
      "layer": [
        {"mark": {"type": "rule", "color": "#000000", "strokeWidth": 1},
         "encoding": {"x": {"datum": 0, "type": "quantitative", "scale": {"domain": [0, 495], "nice": false, "zero": false}, "axis": null}, "x2": {"datum": 495}, "y": {"datum": 7, "type": "quantitative", "scale": {"domain": [0, 53], "reverse": true, "nice": false, "zero": false}, "axis": null}}},
        {"mark": {"type": "rule", "color": "#000000", "strokeWidth": 1},
         "encoding": {"x": {"datum": 0, "type": "quantitative", "scale": {"domain": [0, 495], "nice": false, "zero": false}, "axis": null}, "x2": {"datum": 495}, "y": {"datum": 53, "type": "quantitative", "scale": {"domain": [0, 53], "reverse": true, "nice": false, "zero": false}, "axis": null}}},
        {"mark": {"type": "rule", "color": "#000000", "strokeWidth": 1},
         "encoding": {"x": {"datum": 0, "type": "quantitative", "scale": {"domain": [0, 495], "nice": false, "zero": false}, "axis": null}, "y": {"datum": 7, "type": "quantitative", "scale": {"domain": [0, 53], "reverse": true, "nice": false, "zero": false}, "axis": null}, "y2": {"datum": 53}}},
        {"mark": {"type": "rule", "color": "#000000", "strokeWidth": 1},
         "encoding": {"x": {"datum": 452, "type": "quantitative", "scale": {"domain": [0, 495], "nice": false, "zero": false}, "axis": null}, "y": {"datum": 7, "type": "quantitative", "scale": {"domain": [0, 53], "reverse": true, "nice": false, "zero": false}, "axis": null}, "y2": {"datum": 53}}},
        {"mark": {"type": "rect", "fill": "#000000"},
         "encoding": {"x": {"datum": 10.7, "type": "quantitative", "scale": {"domain": [0, 495], "nice": false, "zero": false}, "axis": null}, "x2": {"datum": 49.7}, "y": {"datum": 15.3, "type": "quantitative", "scale": {"domain": [0, 53], "reverse": true, "nice": false, "zero": false}, "axis": null}, "y2": {"datum": 18.8}}},
        {"mark": {"type": "text", "text": "DWP_01g Programme", "fontSize": 10.5, "color": "#222222", "align": "left", "baseline": "middle"},
         "encoding": {"x": {"datum": 58, "type": "quantitative", "scale": {"domain": [0, 495], "nice": false, "zero": false}, "axis": null}, "y": {"datum": 19.7, "type": "quantitative", "scale": {"domain": [0, 53], "reverse": true, "nice": false, "zero": false}, "axis": null}}},
        {"mark": {"type": "rect", "fill": "#0010d0"},
         "encoding": {"x": {"datum": 10.7, "type": "quantitative", "scale": {"domain": [0, 495], "nice": false, "zero": false}, "axis": null}, "x2": {"datum": 49.7}, "y": {"datum": 33, "type": "quantitative", "scale": {"domain": [0, 53], "reverse": true, "nice": false, "zero": false}, "axis": null}, "y2": {"datum": 40.3}}},
        {"mark": {"type": "text", "text": "Actual Work", "fontSize": 10.5, "color": "#222222", "align": "left", "baseline": "middle"},
         "encoding": {"x": {"datum": 58, "type": "quantitative", "scale": {"domain": [0, 495], "nice": false, "zero": false}, "axis": null}, "y": {"datum": 37, "type": "quantitative", "scale": {"domain": [0, 53], "reverse": true, "nice": false, "zero": false}, "axis": null}}},
        {"mark": {"type": "rect", "fill": "#80ee80", "stroke": "#1e5a1e", "strokeWidth": 0.8},
         "encoding": {"x": {"datum": 174.7, "type": "quantitative", "scale": {"domain": [0, 495], "nice": false, "zero": false}, "axis": null}, "x2": {"datum": 213}, "y": {"datum": 15.6, "type": "quantitative", "scale": {"domain": [0, 53], "reverse": true, "nice": false, "zero": false}, "axis": null}, "y2": {"datum": 23}}},
        {"mark": {"type": "text", "text": "Remaining Work", "fontSize": 10.5, "color": "#222222", "align": "left", "baseline": "middle"},
         "encoding": {"x": {"datum": 223, "type": "quantitative", "scale": {"domain": [0, 495], "nice": false, "zero": false}, "axis": null}, "y": {"datum": 19.7, "type": "quantitative", "scale": {"domain": [0, 53], "reverse": true, "nice": false, "zero": false}, "axis": null}}},
        {"mark": {"type": "rect", "fill": "#ff0000", "stroke": "#700000", "strokeWidth": 0.8},
         "encoding": {"x": {"datum": 174.7, "type": "quantitative", "scale": {"domain": [0, 495], "nice": false, "zero": false}, "axis": null}, "x2": {"datum": 213}, "y": {"datum": 33.5, "type": "quantitative", "scale": {"domain": [0, 53], "reverse": true, "nice": false, "zero": false}, "axis": null}, "y2": {"datum": 40.7}}},
        {"mark": {"type": "text", "text": "Critical Remaining Work", "fontSize": 10.5, "color": "#222222", "align": "left", "baseline": "middle"},
         "encoding": {"x": {"datum": 223, "type": "quantitative", "scale": {"domain": [0, 495], "nice": false, "zero": false}, "axis": null}, "y": {"datum": 37, "type": "quantitative", "scale": {"domain": [0, 53], "reverse": true, "nice": false, "zero": false}, "axis": null}}},
        {"mark": {"type": "point", "shape": "diamond", "size": 45, "filled": true, "color": "#000000", "opacity": 1},
         "encoding": {"x": {"datum": 346.3, "type": "quantitative", "scale": {"domain": [0, 495], "nice": false, "zero": false}, "axis": null}, "y": {"datum": 19.7, "type": "quantitative", "scale": {"domain": [0, 53], "reverse": true, "nice": false, "zero": false}, "axis": null}}},
        {"mark": {"type": "point", "shape": "diamond", "size": 45, "filled": true, "color": "#000000", "opacity": 1},
         "encoding": {"x": {"datum": 384.7, "type": "quantitative", "scale": {"domain": [0, 495], "nice": false, "zero": false}, "axis": null}, "y": {"datum": 19.7, "type": "quantitative", "scale": {"domain": [0, 53], "reverse": true, "nice": false, "zero": false}, "axis": null}}},
        {"mark": {"type": "text", "text": "Milestone", "fontSize": 10.5, "color": "#222222", "align": "left", "baseline": "middle"},
         "encoding": {"x": {"datum": 393, "type": "quantitative", "scale": {"domain": [0, 495], "nice": false, "zero": false}, "axis": null}, "y": {"datum": 19.7, "type": "quantitative", "scale": {"domain": [0, 53], "reverse": true, "nice": false, "zero": false}, "axis": null}}}
      ]
    },
    {
      "width": 552, "height": 53,
      "view": {"stroke": null},
      "data": {"values": [{}]},
      "layer": [
        {"mark": {"type": "rule", "color": "#000000", "strokeWidth": 1},
         "encoding": {"x": {"datum": 0, "type": "quantitative", "scale": {"domain": [0, 552], "nice": false, "zero": false}, "axis": null}, "x2": {"datum": 552}, "y": {"datum": 7, "type": "quantitative", "scale": {"domain": [0, 53], "reverse": true, "nice": false, "zero": false}, "axis": null}}},
        {"mark": {"type": "rule", "color": "#000000", "strokeWidth": 1},
         "encoding": {"x": {"datum": 0, "type": "quantitative", "scale": {"domain": [0, 552], "nice": false, "zero": false}, "axis": null}, "x2": {"datum": 552}, "y": {"datum": 53, "type": "quantitative", "scale": {"domain": [0, 53], "reverse": true, "nice": false, "zero": false}, "axis": null}}},
        {"mark": {"type": "rule", "color": "#000000", "strokeWidth": 1},
         "encoding": {"x": {"datum": 552, "type": "quantitative", "scale": {"domain": [0, 552], "nice": false, "zero": false}, "axis": null}, "y": {"datum": 7, "type": "quantitative", "scale": {"domain": [0, 53], "reverse": true, "nice": false, "zero": false}, "axis": null}, "y2": {"datum": 53}}},
        {"mark": {"type": "rule", "color": "#000000", "strokeWidth": 1},
         "encoding": {"x": {"datum": 201, "type": "quantitative", "scale": {"domain": [0, 552], "nice": false, "zero": false}, "axis": null}, "y": {"datum": 7, "type": "quantitative", "scale": {"domain": [0, 53], "reverse": true, "nice": false, "zero": false}, "axis": null}, "y2": {"datum": 53}}},
        {"mark": {"type": "rule", "color": "#000000", "strokeWidth": 0.8},
         "encoding": {"x": {"datum": 201, "type": "quantitative", "scale": {"domain": [0, 552], "nice": false, "zero": false}, "axis": null}, "x2": {"datum": 552}, "y": {"datum": 19, "type": "quantitative", "scale": {"domain": [0, 53], "reverse": true, "nice": false, "zero": false}, "axis": null}}},
        {"mark": {"type": "rule", "color": "#000000", "strokeWidth": 0.8},
         "encoding": {"x": {"datum": 201, "type": "quantitative", "scale": {"domain": [0, 552], "nice": false, "zero": false}, "axis": null}, "x2": {"datum": 552}, "y": {"datum": 33, "type": "quantitative", "scale": {"domain": [0, 53], "reverse": true, "nice": false, "zero": false}, "axis": null}}},
        {"mark": {"type": "rule", "color": "#000000", "strokeWidth": 0.8},
         "encoding": {"x": {"datum": 239, "type": "quantitative", "scale": {"domain": [0, 552], "nice": false, "zero": false}, "axis": null}, "y": {"datum": 7, "type": "quantitative", "scale": {"domain": [0, 53], "reverse": true, "nice": false, "zero": false}, "axis": null}, "y2": {"datum": 33}}},
        {"mark": {"type": "rule", "color": "#000000", "strokeWidth": 0.8},
         "encoding": {"x": {"datum": 385, "type": "quantitative", "scale": {"domain": [0, 552], "nice": false, "zero": false}, "axis": null}, "y": {"datum": 7, "type": "quantitative", "scale": {"domain": [0, 53], "reverse": true, "nice": false, "zero": false}, "axis": null}, "y2": {"datum": 33}}},
        {"mark": {"type": "rule", "color": "#000000", "strokeWidth": 0.8},
         "encoding": {"x": {"datum": 425, "type": "quantitative", "scale": {"domain": [0, 552], "nice": false, "zero": false}, "axis": null}, "y": {"datum": 7, "type": "quantitative", "scale": {"domain": [0, 53], "reverse": true, "nice": false, "zero": false}, "axis": null}, "y2": {"datum": 33}}},
        {"mark": {"type": "text", "text": "3MRP DWP_01g 1606", "fontSize": 12.5, "fontWeight": "bold", "color": "#111111", "align": "center", "baseline": "middle"},
         "encoding": {"x": {"datum": 79, "type": "quantitative", "scale": {"domain": [0, 552], "nice": false, "zero": false}, "axis": null}, "y": {"datum": 22.5, "type": "quantitative", "scale": {"domain": [0, 53], "reverse": true, "nice": false, "zero": false}, "axis": null}}},
        {"mark": {"type": "text", "text": "Page 13 of 15", "fontSize": 10, "color": "#222222", "align": "center", "baseline": "middle"},
         "encoding": {"x": {"datum": 79, "type": "quantitative", "scale": {"domain": [0, 552], "nice": false, "zero": false}, "axis": null}, "y": {"datum": 37.5, "type": "quantitative", "scale": {"domain": [0, 53], "reverse": true, "nice": false, "zero": false}, "axis": null}}},
        {"mark": {"type": "text", "text": "Date", "fontSize": 8.5, "color": "#222222", "align": "center", "baseline": "middle"},
         "encoding": {"x": {"datum": 220, "type": "quantitative", "scale": {"domain": [0, 552], "nice": false, "zero": false}, "axis": null}, "y": {"datum": 13, "type": "quantitative", "scale": {"domain": [0, 53], "reverse": true, "nice": false, "zero": false}, "axis": null}}},
        {"mark": {"type": "text", "text": "Revision", "fontSize": 8.5, "color": "#222222", "align": "center", "baseline": "middle"},
         "encoding": {"x": {"datum": 312, "type": "quantitative", "scale": {"domain": [0, 552], "nice": false, "zero": false}, "axis": null}, "y": {"datum": 13, "type": "quantitative", "scale": {"domain": [0, 53], "reverse": true, "nice": false, "zero": false}, "axis": null}}},
        {"mark": {"type": "text", "text": "Checked", "fontSize": 8.5, "color": "#222222", "align": "center", "baseline": "middle"},
         "encoding": {"x": {"datum": 405, "type": "quantitative", "scale": {"domain": [0, 552], "nice": false, "zero": false}, "axis": null}, "y": {"datum": 13, "type": "quantitative", "scale": {"domain": [0, 53], "reverse": true, "nice": false, "zero": false}, "axis": null}}},
        {"mark": {"type": "text", "text": "Approved", "fontSize": 8.5, "color": "#222222", "align": "center", "baseline": "middle"},
         "encoding": {"x": {"datum": 488, "type": "quantitative", "scale": {"domain": [0, 552], "nice": false, "zero": false}, "axis": null}, "y": {"datum": 13, "type": "quantitative", "scale": {"domain": [0, 53], "reverse": true, "nice": false, "zero": false}, "axis": null}}},
        {"mark": {"type": "text", "text": "6/7/16", "fontSize": 8.5, "color": "#222222", "align": "left", "baseline": "middle"},
         "encoding": {"x": {"datum": 205, "type": "quantitative", "scale": {"domain": [0, 552], "nice": false, "zero": false}, "axis": null}, "y": {"datum": 26, "type": "quantitative", "scale": {"domain": [0, 53], "reverse": true, "nice": false, "zero": false}, "axis": null}}},
        {"mark": {"type": "text", "text": "1606 rolling based on DWP01g", "fontSize": 8.5, "color": "#222222", "align": "left", "baseline": "middle"},
         "encoding": {"x": {"datum": 243, "type": "quantitative", "scale": {"domain": [0, 552], "nice": false, "zero": false}, "axis": null}, "y": {"datum": 26, "type": "quantitative", "scale": {"domain": [0, 53], "reverse": true, "nice": false, "zero": false}, "axis": null}}},
        {"mark": {"type": "text", "text": "Tim", "fontSize": 8.5, "color": "#222222", "align": "left", "baseline": "middle"},
         "encoding": {"x": {"datum": 389, "type": "quantitative", "scale": {"domain": [0, 552], "nice": false, "zero": false}, "axis": null}, "y": {"datum": 26, "type": "quantitative", "scale": {"domain": [0, 53], "reverse": true, "nice": false, "zero": false}, "axis": null}}}
      ]
    }
  ],
  "columns": 2,
  "spacing": 0,
  "bounds": "flush",
  "align": "each"
}
